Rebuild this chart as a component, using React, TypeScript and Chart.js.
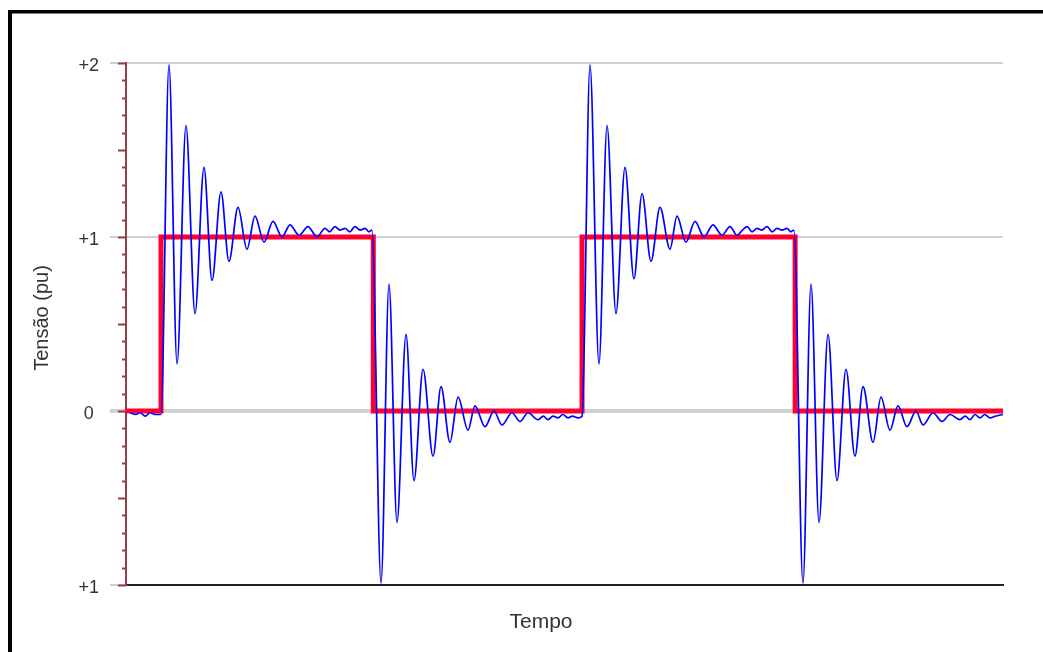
import React, { useEffect, useRef } from 'react';
import { Chart, registerables } from 'chart.js';

Chart.register(...registerables);

const xAxisTitle = 'Tempo';
const yAxisTitle = 'Tensão (pu)';
const yTickValues = [-1, 0, 1, 2];
const yTickLabels = ['+1', '0', '+1', '+2'];

// Applied square wave (pu) versus time (arbitrary units, 0..100)
const stepTime = [0, 3.99, 3.99, 28.2, 28.2, 52.0, 52.0, 76.3, 76.3, 100];
const stepVolts = [0, 0, 1, 1, 0, 0, 1, 1, 0, 0];

// Measured response (pu) versus time
const measTime = [
  0.46, 1.1, 1.6, 2.2, 2.74, 3.3, 3.88, 3.99,
  4.9, 5.82, 6.84, 7.87, 8.89, 9.81, 10.83, 11.74, 12.77, 13.8, 14.71, 15.74, 16.76, 17.79, 18.7, 19.73, 20.75, 21.78,
  22.69, 23.2, 23.83, 24.4, 24.97, 25.5, 26.11, 26.7, 27.25, 27.7, 28.05,
  29.08, 29.99, 30.9, 31.93, 32.84, 33.87, 35.01, 35.92, 36.94, 37.86, 39.0, 39.79, 40.93, 41.96, 42.87, 44.01, 44.93, 45.84, 46.98,
  47.6, 48.12, 48.7, 49.26, 49.8, 50.4, 50.9, 51.54, 52.0,
  52.91, 53.93, 54.85, 55.87, 56.9, 57.92, 58.84, 59.86, 60.89, 62.03, 62.83, 63.85, 64.88, 65.91, 66.93, 67.96, 68.87, 69.67,
  70.3, 70.81, 71.4, 71.95, 72.5, 73.09, 73.7, 74.23, 74.8, 75.37, 75.8, 76.17,
  77.19, 78.11, 79.02, 80.05, 81.07, 82.1, 83.12, 84.04, 85.18, 86.09, 87.11, 88.03, 89.05, 90.08, 90.88, 92.02, 93.04, 93.96, 95.1,
  95.7, 96.24, 96.8, 97.38, 97.9, 98.52, 99.1, 100,
];
const measVolts = [
  -0.01, -0.02, -0.01, -0.03, -0.01, -0.02, -0.02, -0.02,
  1.99, 0.27, 1.64, 0.56, 1.4, 0.75, 1.26, 0.86, 1.17, 0.93, 1.12, 0.97, 1.09, 1.0, 1.07, 1.01, 1.06, 1.0,
  1.05, 1.03, 1.06, 1.04, 1.05, 1.03, 1.06, 1.04, 1.05, 1.03, 1.04,
  -0.99, 0.73, -0.64, 0.44, -0.4, 0.24, -0.26, 0.14, -0.18, 0.08, -0.11, 0.03, -0.09, 0.0, -0.08, -0.01, -0.06, -0.01, -0.05,
  -0.03, -0.05, -0.03, -0.04, -0.02, -0.04, -0.03, -0.04, -0.03,
  1.99, 0.27, 1.64, 0.56, 1.4, 0.76, 1.25, 0.86, 1.17, 0.93, 1.12, 0.97, 1.09, 1.0, 1.07, 1.01, 1.06, 1.01,
  1.04, 1.06, 1.03, 1.05, 1.04, 1.06, 1.03, 1.05, 1.04, 1.05, 1.03, 1.04,
  -0.99, 0.73, -0.64, 0.44, -0.4, 0.24, -0.26, 0.14, -0.18, 0.08, -0.11, 0.03, -0.09, 0.0, -0.08, -0.01, -0.06, -0.02, -0.05,
  -0.03, -0.05, -0.02, -0.04, -0.02, -0.04, -0.03, -0.02,
];

const FONT = "'Liberation Sans', Arial, sans-serif";
const AXIS_RED = '#9a3a4a';

const decorPlugin = {
  id: 'decor',
  beforeDraw(chart: any) {
    const ctx = chart.ctx;
    ctx.save();
    ctx.fillStyle = '#ffffff';
    ctx.fillRect(0, 0, chart.width, chart.height);
    ctx.fillStyle = '#000000';
    ctx.fillRect(8, 10, 4, chart.height);
    ctx.fillRect(8, 10, chart.width, 3.5);
    ctx.restore();
  },
  afterDraw(chart: any) {
    const ctx = chart.ctx;
    const y = chart.scales.y;
    const area = chart.chartArea;
    ctx.save();
    ctx.strokeStyle = AXIS_RED;
    ctx.lineWidth = 2;
    for (let k = -10; k <= 20; k++) {
      const py = Math.round(y.getPixelForValue(k / 10)) + 0.5;
      const len = k % 5 === 0 ? 8 : 4;
      ctx.beginPath();
      ctx.moveTo(area.left - len, py);
      ctx.lineTo(area.left, py);
      ctx.stroke();
    }
    ctx.fillStyle = '#333333';
    ctx.textAlign = 'center';
    ctx.textBaseline = 'middle';
    ctx.font = `21px ${FONT}`;
    ctx.fillText(xAxisTitle, (area.left + area.right) / 2 - 23.5, area.bottom + 37);
    ctx.font = `20px ${FONT}`;
    ctx.translate(area.left - 84, (area.top + area.bottom) / 2 - 6);
    ctx.rotate(-Math.PI / 2);
    ctx.fillText(yAxisTitle, 0, 0);
    ctx.restore();
  },
};

export default function App() {
  const canvasRef = useRef<HTMLCanvasElement | null>(null);

  useEffect(() => {
    if (!canvasRef.current) return;
    const measured = measTime.map((t, i) => ({ x: t, y: measVolts[i] }));
    const step = stepTime.map((t, i) => ({ x: t, y: stepVolts[i] }));
    const chart = new Chart(canvasRef.current, {
      type: 'line',
      data: {
        datasets: [
          {
            label: 'Medido',
            data: measured,
            borderColor: '#0000ff',
            borderWidth: 1.7,
            pointRadius: 0,
            fill: false,
            cubicInterpolationMode: 'monotone',
          },
          {
            label: 'Degrau',
            data: step,
            borderColor: '#ff0030',
            borderWidth: 5,
            pointRadius: 0,
            fill: false,
            tension: 0,
          },
        ],
      },
      options: {
        responsive: false,
        animation: false,
        devicePixelRatio: 1,
        layout: { padding: { left: 0, top: 63, right: 40, bottom: 0 } },
        plugins: {
          legend: { display: false },
          tooltip: { enabled: false },
          title: { display: false },
        },
        scales: {
          x: {
            type: 'linear',
            min: 0,
            max: 100,
            ticks: { display: false },
            grid: { display: false },
            border: { display: true, color: '#222222', width: 2 },
            title: { display: false },
            afterFit: (scale: any) => {
              scale.height = 67;
            },
          },
          y: {
            type: 'linear',
            min: -1,
            max: 2,
            afterBuildTicks: (scale: any) => {
              scale.ticks = yTickValues.map((v) => ({ value: v }));
            },
            ticks: {
              crossAlign: 'center',
              padding: 11,
              labelOffset: 3,
              color: '#333333',
              font: { family: FONT, size: 18 },
              callback: (v: any) => {
                const i = yTickValues.indexOf(Number(v));
                return i >= 0 ? yTickLabels[i] : '';
              },
            },
            grid: {
              color: '#d0d0d0',
              tickColor: '#d0d0d0',
              lineWidth: (c: any) => (c.tick && c.tick.value === 0 ? 4 : 2),
              tickLength: 16,
              drawTicks: true,
            },
            border: { display: true, color: AXIS_RED, width: 2 },
            title: { display: false },
            afterFit: (scale: any) => {
              scale.width = 126;
            },
          },
        },
      },
      plugins: [decorPlugin],
    } as any);
    return () => chart.destroy();
  }, []);

  return (
    <div style={{ position: 'absolute', left: 0, top: 0, width: 1043, height: 652, overflow: 'hidden', background: '#fff' }}>
      <canvas ref={canvasRef} width={1043} height={652} style={{ display: 'block', width: 1043, height: 652 }} />
    </div>
  );
}
